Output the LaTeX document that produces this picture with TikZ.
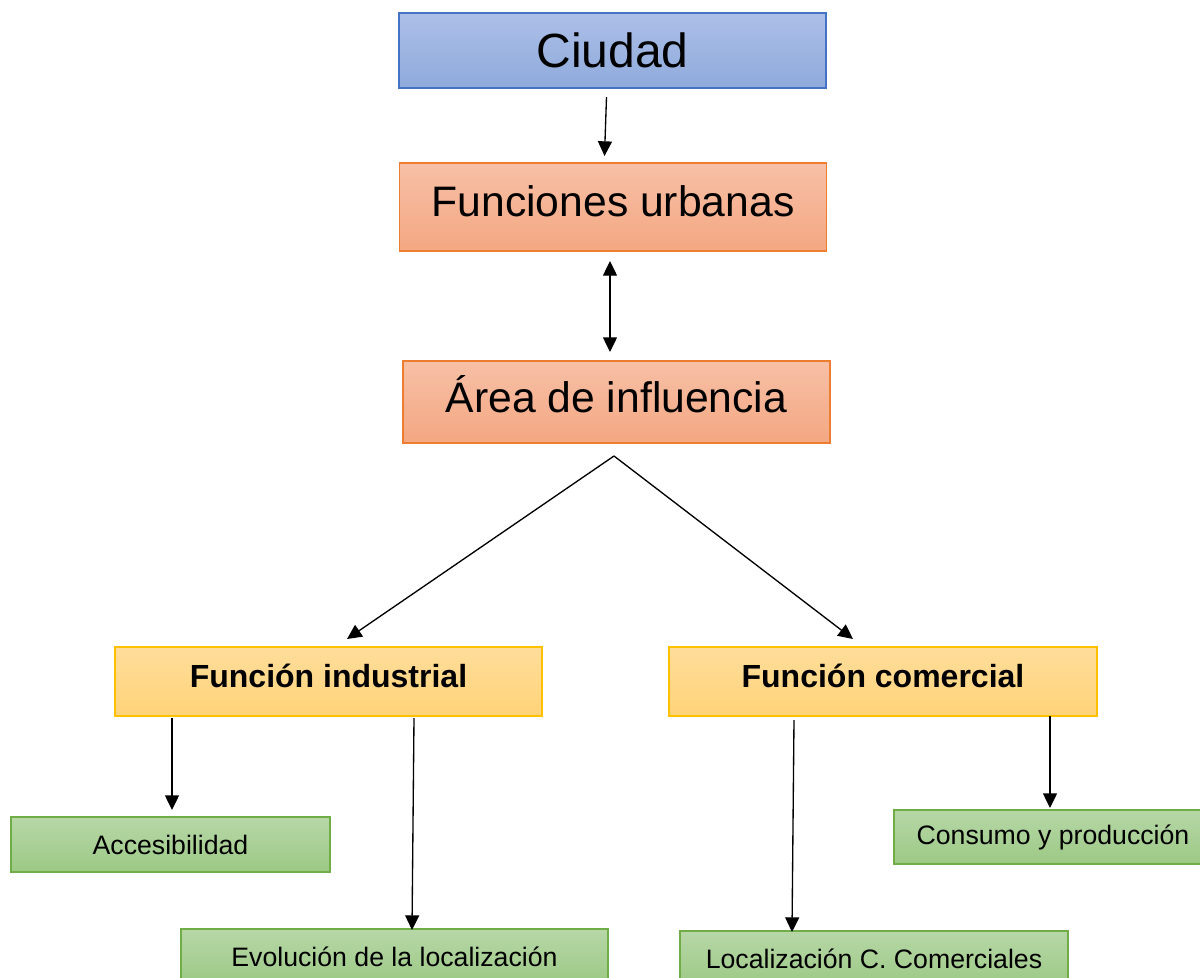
\documentclass[tikz,border=0pt]{standalone}
\usepackage{fontspec}
\setmainfont{Liberation Sans}
\usetikzlibrary{arrows.meta}
\definecolor{bordeazul}{HTML}{4472C4}
\definecolor{bordenaranja}{HTML}{ED7D31}
\definecolor{bordeamarillo}{HTML}{FFC000}
\definecolor{bordeverde}{HTML}{70AD47}
\begin{document}
\begin{tikzpicture}[x=0.75pt,y=-0.75pt,
    caja/.style={draw, line width=1pt, inner sep=0pt, minimum width=320.25pt},
    azul/.style={caja, draw=bordeazul, top color=blue!5!white!60!bordeazul, bottom color=bordeazul!60!white},
    naranja/.style={caja, draw=bordenaranja, text height=23pt, text depth=9pt, top color={rgb,255:red,247;green,192;blue,166}, bottom color={rgb,255:red,244;green,167;blue,130}},
    amarillo/.style={caja, draw=bordeamarillo, minimum height=51.75pt, text height=17.2pt, text depth=7.5pt, top color={rgb,255:red,255;green,221;blue,155}, bottom color={rgb,255:red,255;green,211;blue,120}, font=\fontsize{24}{29}\selectfont\bfseries},
    verde/.style={caja, draw=bordeverde, minimum height=41.25pt, top color={rgb,255:red,183;green,215;blue,167}, bottom color={rgb,255:red,156;green,201;blue,133}, font=\fontsize{20}{24}\selectfont},
    punta/.tip={Triangle[length=11pt,width=10.5pt]},
    flecha/.style={line width=1pt, -punta}]
    % Marco
    \useasboundingbox (0,0) rectangle (1200,978);
    % Cajas
    \node[azul, minimum height=56.25pt, font=\fontsize{36}{43}\selectfont] (ciudad) at (612.5,50.5) {Ciudad};
    \node[naranja, minimum height=66pt, font=\fontsize{32}{38}\selectfont] (funciones) at (613,207) {Funciones urbanas};
    \node[naranja, minimum height=61.5pt, font=\fontsize{32}{38}\selectfont, text depth=6.75pt] (area) at (616.5,402) {Área de influencia};
    \node[amarillo] (industrial) at (328.5,681.5) {Función industrial};
    \node[amarillo, minimum width=321pt] (comercial) at (883,681.5) {Función comercial};
    \node[verde, minimum width=239.25pt] (accesibilidad) at (170.5,844.5) {Accesibilidad};
    \node[verde, minimum width=238.5pt, minimum height=40.5pt] (consumo) at (1053,837) {Consumo y producción};
    \node[verde] (evolucion) at (394.5,956.5) {Evolución de la localización};
    \node[verde, minimum width=291pt] (localizacion) at (874,958.5) {Localización C. Comerciales};
    % Extremos de las flechas
    \coordinate (c1) at (606.5,97);
    \coordinate (c2) at (604.5,156);
    \coordinate (c3) at (610,261);
    \coordinate (c4) at (610,352);
    \coordinate (vertice) at (614,456);
    \coordinate (c5) at (347,639);
    \coordinate (c6) at (853,639);
    \coordinate (c7) at (172,718);
    \coordinate (c8) at (172,810);
    \coordinate (c9) at (414,718);
    \coordinate (c10) at (412,930);
    \coordinate (c11) at (794,720);
    \coordinate (c12) at (792,932);
    \coordinate (c13) at (1050,716);
    \coordinate (c14) at (1050,808);
    % Flechas
    \draw[flecha] (c1) -- (c2);
    \draw[flecha, punta-punta] (c3) -- (c4);
    \draw[flecha] (vertice) -- (c5);
    \draw[flecha] (vertice) -- (c6);
    \draw[flecha] (c7) -- (c8);
    \draw[flecha] (c9) -- (c10);
    \draw[flecha] (c11) -- (c12);
    \draw[flecha] (c13) -- (c14);
\end{tikzpicture}
\end{document}
